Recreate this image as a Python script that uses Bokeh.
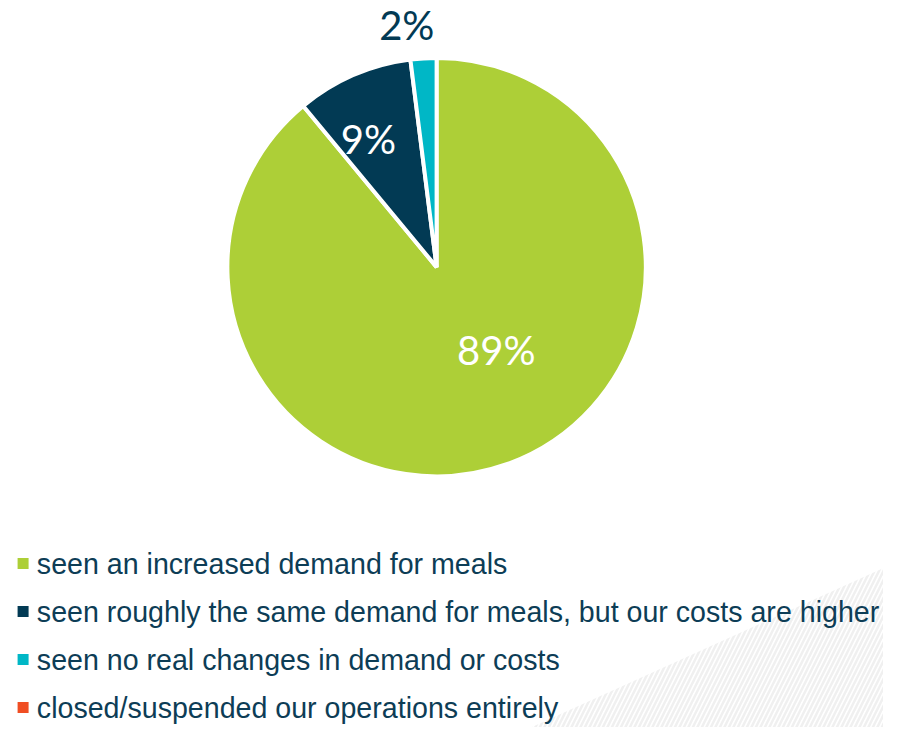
import numpy as np
from bokeh.plotting import figure
from bokeh.models import Range1d, ColumnDataSource
from bokeh.core.properties import value
from bokeh.embed import file_html
from bokeh.resources import INLINE

# ---- data ----
categories = [
    "seen an increased demand for meals",
    "seen roughly the same demand for meals, but our costs are higher",
    "seen no real changes in demand or costs",
    "closed/suspended our operations entirely",
]
percents = [89, 9, 2, 0]
labels = ["89%", "9%", "2%", ""]
colors = ["#adcf37", "#023a54", "#00b7c6", "#f04e23"]

# ---- styling ----
W, H = 883, 727
label_r = [104, 148, 249, 0]
label_nudge = [16.0, 4.6, 3.4, 0]  # degrees
label_col = ["white", "white", "#023a54", "white"]
text_col = "#0d3d56"

p = figure(width=W, height=H, output_backend="svg", toolbar_location=None,
           x_range=Range1d(0, 899), y_range=Range1d(0, 743),
           min_border=0)
p.axis.visible = False
p.grid.visible = False
p.outline_line_color = None
p.background_fill_color = "white"
p.border_fill_color = "white"

# faint hatch decoration bottom-right
p.patch([899, 899, 540], [743 - 580, 0, 0], fill_alpha=0, line_color=None,
        hatch_pattern="/", hatch_color="#f0f0f0", hatch_scale=9, hatch_weight=2.5)

cx, cy, R = 444, 743 - 272.5, 213
vals = np.array(percents, dtype=float)
cum = np.concatenate([[0], np.cumsum(vals)])
start = np.deg2rad(90 - cum[:-1] * 3.6)
end = np.deg2rad(90 - cum[1:] * 3.6)
mask = vals > 0
src = ColumnDataSource(dict(start=start[mask], end=end[mask],
                            color=[c for c, m in zip(colors, mask) if m]))
p.wedge(x=cx, y=cy, radius=R, start_angle="start", end_angle="end",
        direction="clock", fill_color="color", line_color="white",
        line_width=4, source=src)

mid = (cum[:-1] + cum[1:]) / 2
ang = np.deg2rad(90 - mid * 3.6 + np.array(label_nudge))
lx = cx + np.array(label_r) * np.cos(ang)
ly = cy + np.array(label_r) * np.sin(ang)
lsrc = ColumnDataSource(dict(x=lx[mask], y=ly[mask],
                             t=[l for l, m in zip(labels, mask) if m],
                             c=[c for c, m in zip(label_col, mask) if m]))
p.text(x="x", y="y", text="t", text_color="c", source=lsrc,
       text_font=value("Lato"), text_font_size="40px",
       text_align="center", text_baseline="middle")

# legend
rows_y = 743 - (575.5 + 49 * np.arange(len(categories)))
p.scatter(x=[23] * len(categories), y=rows_y, marker="square", size=11,
          fill_color=colors, line_color=None)
p.text(x=[37] * len(categories), y=rows_y - 0.5, text=categories,
       text_color=text_col, text_font=value("Liberation Sans"),
       text_font_size="28.6px", text_align="left", text_baseline="middle")

open("out.html", "w").write(file_html(p, INLINE))
